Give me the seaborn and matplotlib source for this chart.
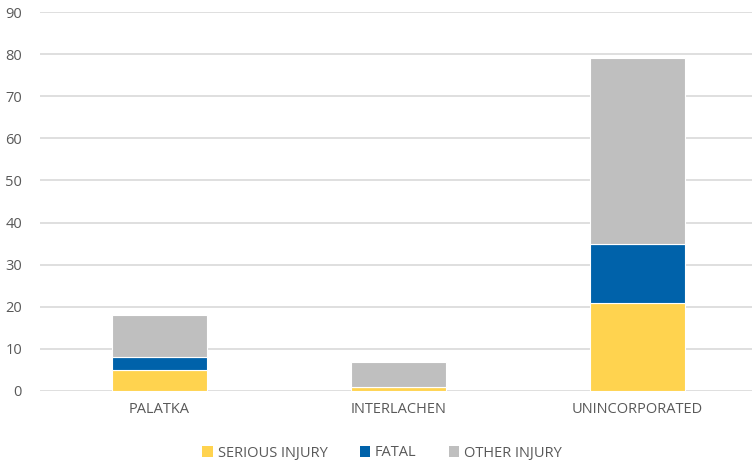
import matplotlib
matplotlib.use("Agg")
import matplotlib.pyplot as plt
import seaborn as sns
import numpy as np
from matplotlib.patches import Patch

categories = ["PALATKA", "INTERLACHEN", "UNINCORPORATED"]
serious = [5, 1, 21]
fatal = [3, 0, 14]
other = [10, 6, 44]

series_names = ["SERIOUS INJURY", "FATAL", "OTHER INJURY"]
colors = ["#FFD34F", "#0062AA", "#BFBFBF"]

sns.set_theme(style="white")
plt.rcParams['font.family'] = ['Open Sans', 'DejaVu Sans']

fig = plt.figure(figsize=(7.52, 4.66), dpi=100)
ax = fig.add_axes([40/752, 75/466, 712/752, 379/466])

bottom = np.zeros(len(categories))
for vals, col in zip([serious, fatal, other], colors):
    sns.barplot(x=categories, y=vals, bottom=bottom, color=col, width=0.4,
                edgecolor="white", linewidth=0.8, ax=ax, saturation=1, zorder=3)
    bottom = bottom + np.array(vals)

ax.set_ylim(0, 90)
ax.set_xlim(-0.5, 2.48)
ax.set_yticks(range(0, 91, 10))
ax.yaxis.grid(True, color="#D9D9D9", linewidth=1.2, zorder=0)
ax.set_axisbelow(True)
for s in ax.spines.values():
    s.set_visible(False)
ax.tick_params(axis="both", length=0, labelsize=10.5, colors="#595959", pad=8)
ax.tick_params(axis="y", pad=13)
ax.set_xlabel("")
ax.set_ylabel("")

handles = [Patch(facecolor=c, edgecolor="none") for c in colors]
fig.legend(handles, series_names, loc="center", bbox_to_anchor=(382/752, 1 - 453/466),
           ncol=3, frameon=False, fontsize=10.5, labelcolor="#595959",
           handlelength=0.75, handleheight=0.75, handletextpad=0.3, columnspacing=2.2)

fig.savefig("out.png", dpi=100)
